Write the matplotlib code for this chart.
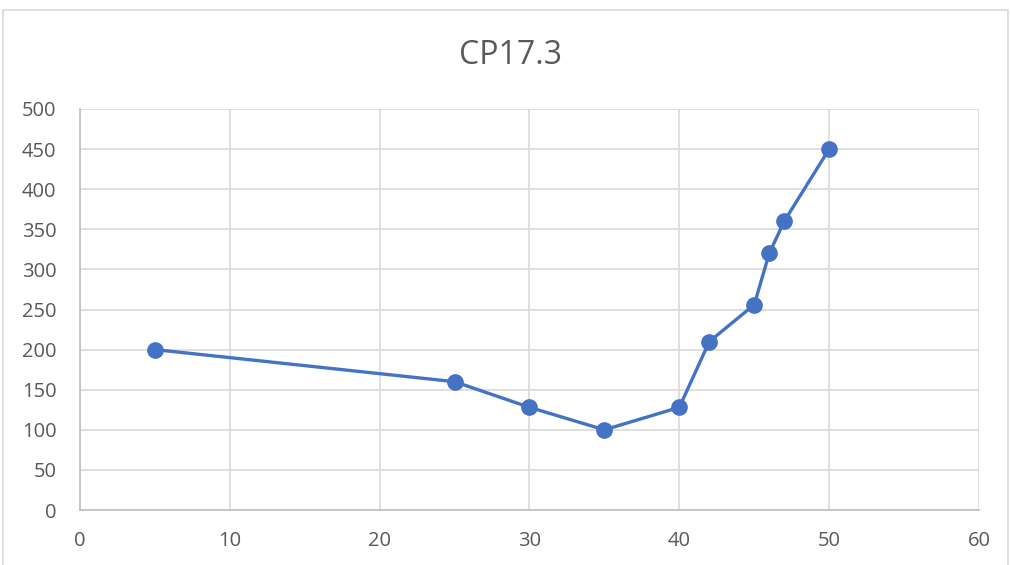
import matplotlib
matplotlib.use("Agg")
import matplotlib.pyplot as plt
from matplotlib.patches import Rectangle

x_vals = [5, 25, 30, 35, 40, 42, 45, 46, 47, 50]
y_vals = [200, 160, 128, 100, 128, 210, 256, 320, 360, 450]
x_ticks = [0, 10, 20, 30, 40, 50, 60]
y_ticks = [0, 50, 100, 150, 200, 250, 300, 350, 400, 450, 500]

plt.rcParams['font.family'] = ['Open Sans', 'DejaVu Sans']
text_col = '#595959'
grid_col = '#d9d9d9'

fig = plt.figure(figsize=(10.12, 5.65), dpi=100)
fig.patches.append(Rectangle((3 / 1012, -0.01), 1005 / 1012, 1 - 10 / 565 + 0.01,
                             transform=fig.transFigure, fill=False,
                             edgecolor=grid_col, linewidth=1.2))

ax = fig.add_axes([80 / 1012, 55 / 565, 899 / 1012, 401 / 565])
ax.plot(x_vals, y_vals, color='#4472c4', linewidth=2.4, marker='o',
        markersize=11, zorder=3, clip_on=False)

ax.set_xlim(0, 60)
ax.set_ylim(0, 500)
ax.set_xticks(x_ticks)
ax.set_yticks(y_ticks)
ax.grid(True, color=grid_col, linewidth=1.2)
ax.set_axisbelow(True)
for s in ['top', 'right']:
    ax.spines[s].set_visible(False)
for s in ['left', 'bottom']:
    ax.spines[s].set_color('#bfbfbf')
    ax.spines[s].set_linewidth(1.2)
ax.tick_params(length=0, labelsize=14.5, labelcolor=text_col)
ax.tick_params(axis='x', pad=15)
ax.tick_params(axis='y', pad=17)

fig.text(511 / 1012, 1 - 55 / 565, 'CP17.3', ha='center', va='center',
         fontsize=23, color=text_col)

fig.savefig('out.png', dpi=100)
